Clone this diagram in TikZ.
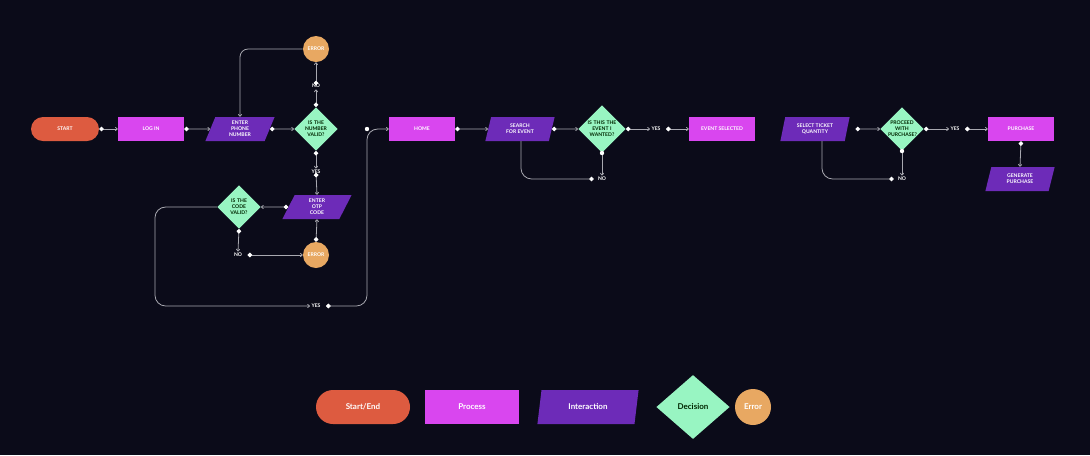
\documentclass[tikz,border=0pt]{standalone}
\usepackage{fontspec}
\setmainfont{Lato}
\usetikzlibrary{shapes.geometric,arrows.meta}
\definecolor{bg}{HTML}{0B0B19}
\definecolor{cstart}{HTML}{DD5B40}
\definecolor{cproc}{HTML}{D946EF}
\definecolor{cint}{HTML}{6D2BB8}
\definecolor{cdec}{HTML}{98F5C2}
\definecolor{cerr}{HTML}{E8A862}
\definecolor{cline}{HTML}{A8A8B0}
\tikzset{
 base/.style={font=\fontsize{3.8}{4.4}\selectfont\bfseries, text=white, align=center, inner sep=0pt},
 term/.style={base, rounded corners=9pt, fill=cstart, minimum width=51pt, minimum height=18pt},
 proc/.style={base, fill=cproc, minimum width=49.5pt, minimum height=18pt},
 inter/.style={base, fill=cint, trapezium, trapezium left angle=74, trapezium right angle=106, trapezium stretches=true, minimum width=52pt, minimum height=18pt},
 dec/.style={base, text=black!85!green, fill=cdec, diamond, minimum width=31pt, minimum height=31pt, text width=21pt},
 err/.style={base, fill=cerr, circle, minimum size=19.5pt},
 lab/.style={base, inner sep=1pt},
 conn/.style={draw=cline, line width=0.6pt, {Circle[length=3.4pt,width=3.4pt,color=white]}-{To[length=2pt,width=3pt]}},
 plain/.style={draw=cline, line width=0.6pt, -{To[length=2pt,width=3pt]}},
 endot/.style={draw=cline, line width=0.6pt, -{Circle[length=3.4pt,width=3.4pt,color=white]}},
 big/.style={font=\fontsize{6}{7}\selectfont\bfseries, minimum width=70.5pt, minimum height=25.5pt}
}
\begin{document}
\begin{tikzpicture}[x=0.75pt,y=-0.75pt]
\fill[bg] (0,0) rectangle (1090,455);
\useasboundingbox (0,0) rectangle (1090,455);
% nodes
\node[term, minimum width=51pt] (start) at (65,129) {START};
\node[proc] (login) at (151,129) {LOG IN};
\node[inter] (phone) at (240,129) {ENTER\\PHONE\\NUMBER};
\node[dec] (d1) at (316,129) {IS THE\\NUMBER\\VALID?};
\node[err] (err1) at (316,49) {ERROR};
\node[lab] (no1) at (316,86) {NO};
\node[lab] (yes1) at (316,172) {YES};
\node[inter] (otp) at (317,207) {ENTER\\OTP\\CODE};
\node[dec] (d2) at (239,207) {IS THE\\CODE\\VALID?};
\node[lab] (no2) at (238,255) {NO};
\node[err] (err2) at (316,255) {ERROR};
\node[lab] (yes3) at (316,306) {YES};
\node[proc] (home) at (422,129) {HOME};
\node[inter] (search) at (520,129) {SEARCH\\FOR EVENT};
\node[dec, text width=24pt] (d3) at (602,129) {IS THIS THE\\EVENT I\\WANTED?};
\node[lab] (yes4) at (656,129) {YES};
\node[proc] (evsel) at (722,129) {EVENT SELECTED};
\node[lab] (no3) at (602,179) {NO};
\node[inter] (select) at (815,129) {SELECT TICKET\\QUANTITY};
\node[dec] (d4) at (902,129) {PROCEED\\WITH\\PURCHASE?};
\node[lab] (yes5) at (955,129) {YES};
\node[proc] (purch) at (1021,129) {PURCHASE};
\node[inter] (gen) at (1020,179) {GENERATE\\PURCHASE};
\node[lab] (no4) at (902,179) {NO};
% connectors
\draw[conn] (start) -- (login);
\draw[conn] (login) -- (phone);
\draw[conn] (phone) -- (d1);
\draw[conn] (d1.north) -- (no1.south);
\draw[conn] ([yshift=-2pt]no1.north) -- (err1.south);
\draw[plain, rounded corners=6pt] (err1.west) -| (phone.north);
\draw[conn] (d1.south) -- (yes1.north);
\draw[conn] ([yshift=2pt]yes1.south) -- (otp.north);
\draw[conn] (otp.west) -- (d2.east);
\draw[conn] (d2.south) -- (no2.north);
\draw[conn] ([xshift=3pt]no2.east) -- (err2.west);
\draw[conn] (err2.north) -- (otp.south);
\draw[plain, rounded corners=8pt] (d2.west) -- (155,207) -- (155,306) -- (yes3.west);
\draw[conn, rounded corners=8pt] ([xshift=3pt]yes3.east) -- (367,306) -- (367,129) -- (home.west);
\fill[white] (367,129) circle (2.2);
\draw[conn] (home) -- (search);
\draw[conn] (search) -- (d3);
\draw[conn] (d3.east) -- (yes4.west);
\draw[conn] ([xshift=3pt]yes4.east) -- (evsel.west);
\draw[plain] (d3.south) -- (no3.north);
\fill[white] (d3.south) circle (2.2);
\draw[endot, rounded corners=8pt] (521,141) -- (521,179) -- ([xshift=-2pt]no3.west);
\draw[conn] ([xshift=6pt]select.east) -- (d4.west);
\draw[conn] (d4.east) -- (yes5.west);
\draw[conn] ([xshift=3pt]yes5.east) -- (purch.west);
\draw[conn] (purch.south) -- (gen.north);
\draw[plain] (d4.south) -- (no4.north);
\fill[white] (d4.south) circle (2.2);
\draw[endot, rounded corners=8pt] (822,141) -- (822,179) -- ([xshift=-2pt]no4.west);
% legend
\node[term, big, rounded corners=12.75pt] (lg1) at (363,407) {Start/End};
\node[proc, big] (lg2) at (472,407) {Process};
\node[inter, big, minimum width=76pt] (lg3) at (588,407) {Interaction};
\node[dec, big, minimum width=55pt, minimum height=48pt, text width=40pt] (lg4) at (693,407) {Decision};
\node[err, big, minimum width=27pt, minimum height=27pt, minimum size=27pt] (lg5) at (753,407) {Error};
\end{tikzpicture}
\end{document}
